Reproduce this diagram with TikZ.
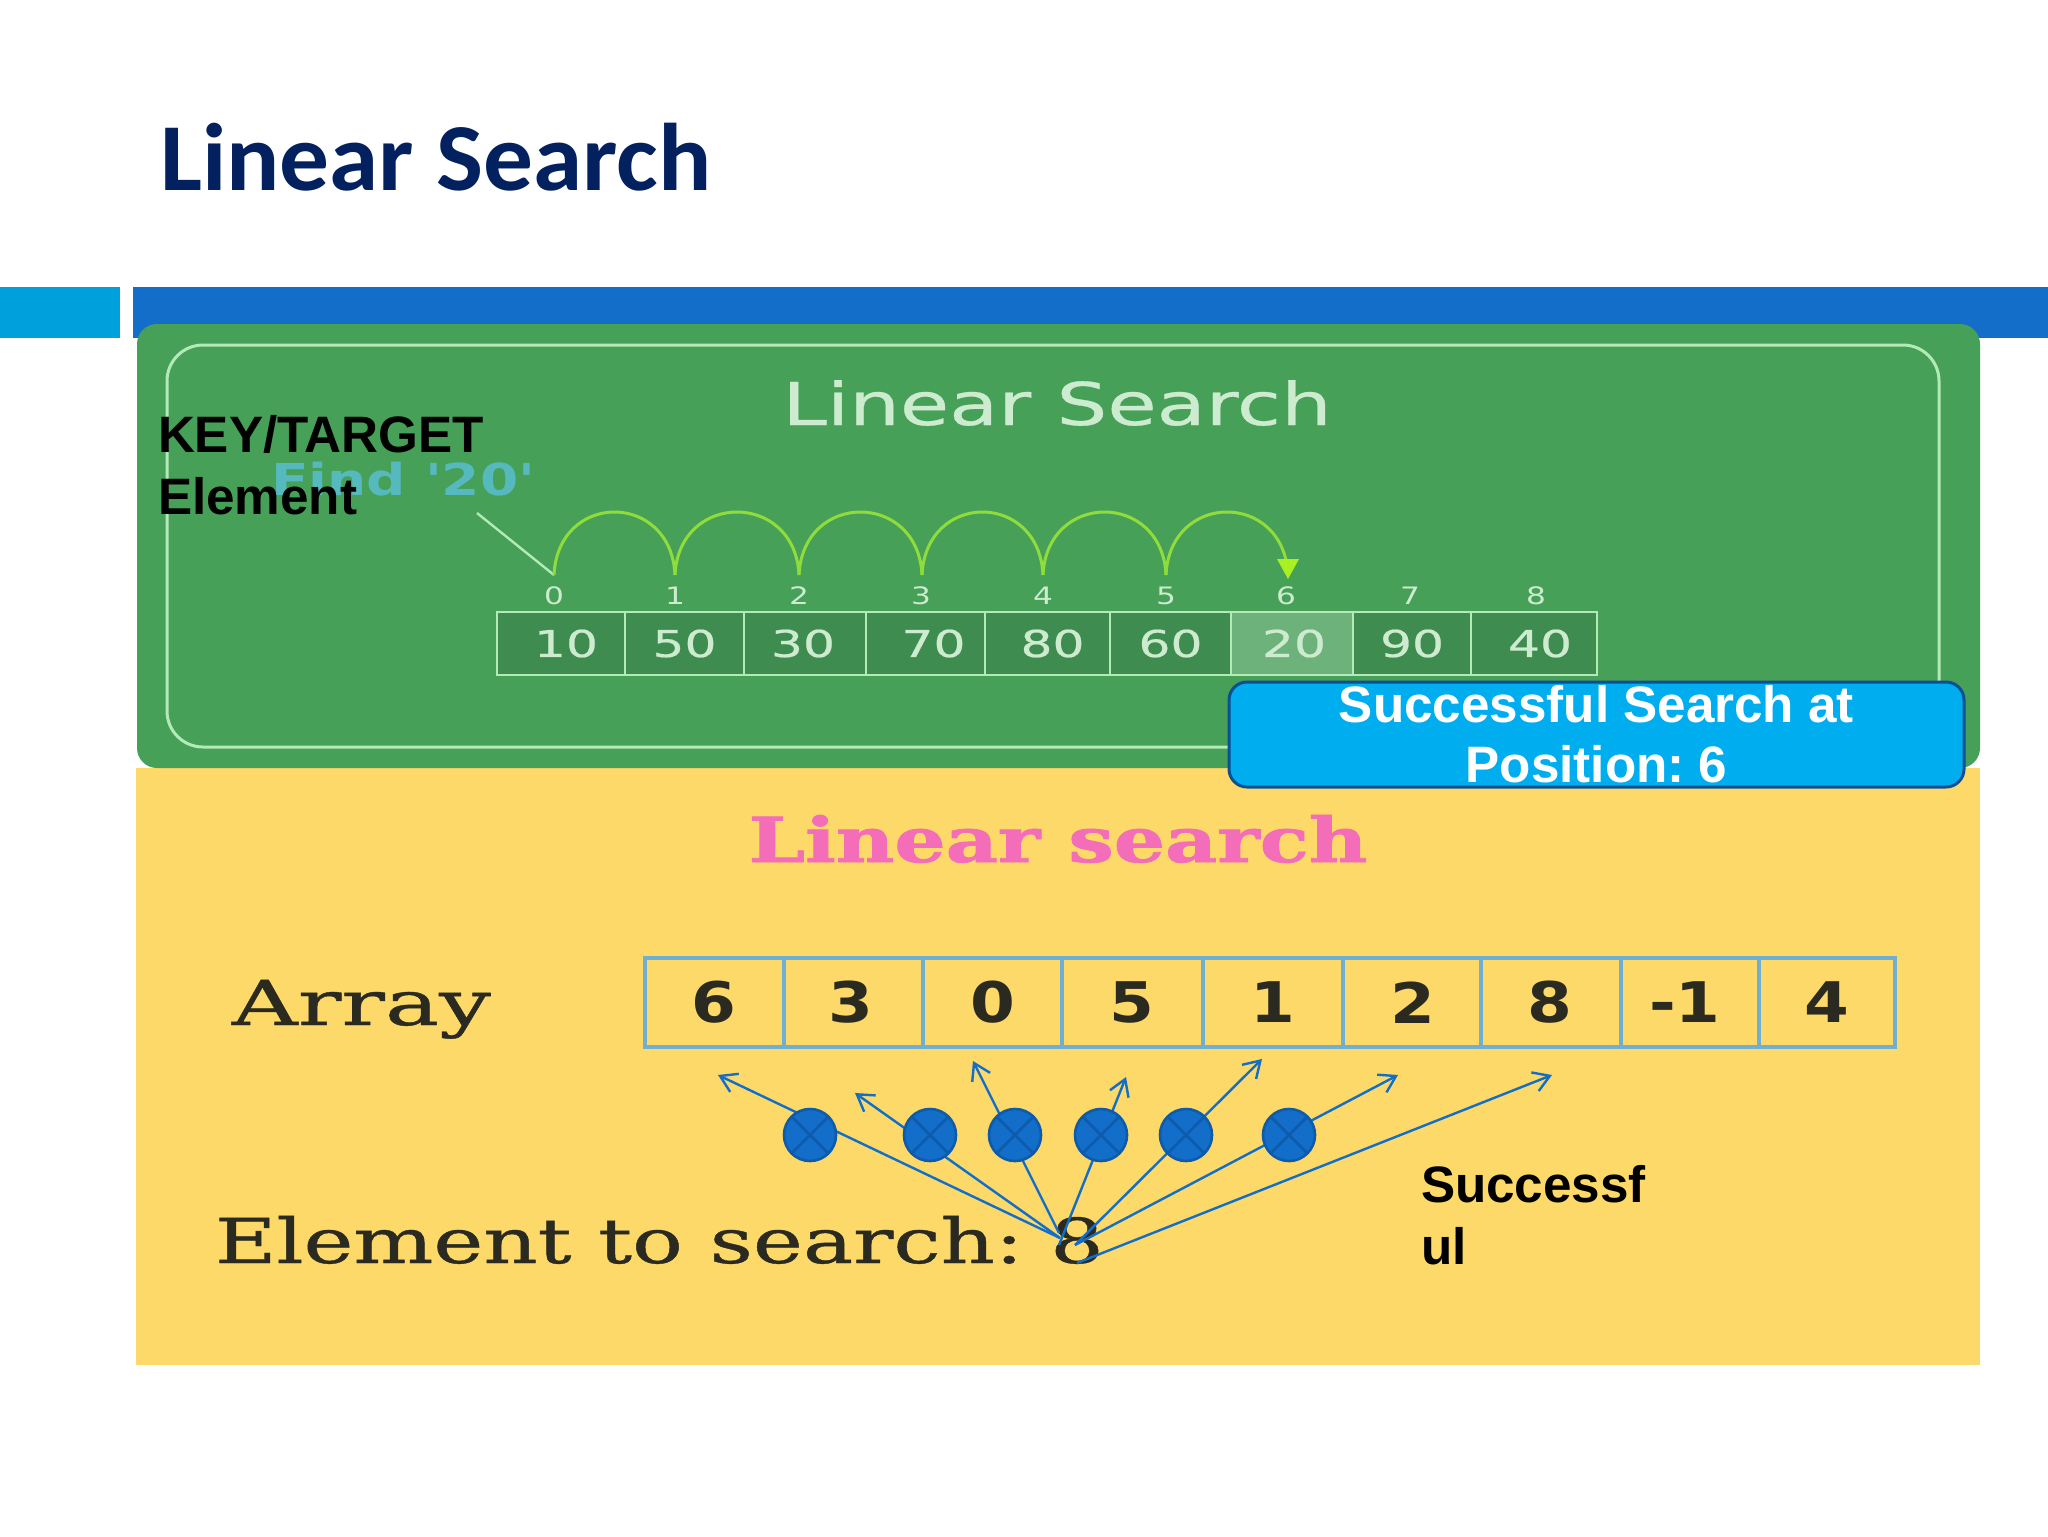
\documentclass[tikz,border=0pt]{standalone}
\usepackage{fontspec}
\usetikzlibrary{arrows.meta}
\setmainfont{Liberation Sans}
\frenchspacing
\newfontfamily\titlefont{Carlito}
\newfontfamily\serifw[FakeBold=0.6]{DejaVu Serif}
\newfontfamily\serifh[FakeBold=1.2]{DejaVu Serif}
\newfontfamily\dvs{DejaVu Sans}
\newfontfamily\dvsb[FakeBold=0.5]{DejaVu Sans}
\newcommand{\wideby}[2]{\scalebox{#1}[1]{#2}}
\definecolor{navy}{HTML}{03215F}
\definecolor{barcyan}{HTML}{00A0DC}
\definecolor{barblue}{HTML}{126EC8}
\definecolor{boardgreen}{HTML}{46A057}
\definecolor{framegreen}{HTML}{B4EAB8}
\definecolor{cellgreen}{HTML}{3F8C50}
\definecolor{celllight}{HTML}{6DB27A}
\definecolor{palegreen}{HTML}{CDEBCF}
\definecolor{arcgreen}{HTML}{90DC3C}
\definecolor{tipgreen}{HTML}{A8F020}
\definecolor{findteal}{HTML}{55B9BE}
\definecolor{boardyellow}{HTML}{FCD968}
\definecolor{pinkhead}{HTML}{F36DB8}
\definecolor{inkdark}{HTML}{2B2A20}
\definecolor{cellblue}{HTML}{6FB0D2}
\definecolor{boxcyan}{HTML}{00AEEF}
\definecolor{boxedge}{HTML}{0B4F94}
\definecolor{markblue}{HTML}{126EC8}
\definecolor{markedge}{HTML}{0D5BAA}
\tikzset{
  lbl/.style={inner sep=0pt,outer sep=0pt},
  blacklbl/.style={lbl,align=left,text=black,font=\bfseries\fontsize{25.6}{31}\selectfont},
  gcell/.style={lbl,draw=framegreen,line width=1.2pt,fill=cellgreen,minimum height=31.5pt,text=palegreen,font=\dvsb\fontsize{18.5}{20}\selectfont},
  gidx/.style={lbl,text=palegreen,font=\dvs\fontsize{12}{14}\selectfont},
  ycell/.style={lbl,draw=cellblue,line width=1.6pt,minimum height=44.5pt,text=inkdark,font=\dvs\bfseries\fontsize{28}{30}\selectfont},
  jump/.style={draw=arcgreen,line width=1.5pt},
  probe/.style={draw=markblue,line width=1.2pt,-{Straight Barb[length=8pt,width=10pt]}},
  miss/.style={lbl,circle,draw=markedge,fill=markblue,line width=1.3pt,minimum size=26pt},
  missx/.style={draw=markedge,line width=1.3pt}
}
\begin{document}
\begin{tikzpicture}[x=0.5pt,y=-0.5pt]
\useasboundingbox (0,0) rectangle (2048,1536);
\fill[white] (0,0) rectangle (2048,1536);
% title and bars
\node[lbl,anchor=base west,text=navy,font=\titlefont\bfseries\fontsize{48}{50}\selectfont] (title) at (160,190) {\wideby{1.035}{Linear Search}};
\fill[barcyan] (0,287) rectangle (120,338);
\fill[barblue] (133,287) rectangle (2048,338);
% yellow panel and green board
\fill[boardyellow] (136,768) rectangle (1980,1365);
\fill[boardgreen,rounded corners=10pt] (137,324) rectangle (1980,768);
\draw[framegreen,line width=1.5pt,rounded corners=18pt] (167,345) rectangle (1939,747);
\node[lbl,anchor=base,text=palegreen,font=\dvsb\fontsize{29.5}{32}\selectfont] (gtitle) at (1057,425) {\wideby{1.357}{Linear Search}};
\node[lbl,anchor=base west,text=findteal,font=\dvs\bfseries\fontsize{22}{24}\selectfont] (find) at (271,495) {\wideby{1.25}{Find '20'}};
% green array
\foreach \i/\x/\w/\d/\t in {0/561/64/5/10,1/684.5/59.5/0/50,2/805/61/-2/30,3/925.5/59.5/8/70,4/1047.5/62.5/5/80,5/1170.5/60.5/0/60,7/1412/59/0/90,8/1534/63/6/40}
  \node[gcell,minimum width=\w pt] (g\i) at (\x,643.5) {\hspace*{\d pt}\wideby{1.36}{\t}};
\node[gcell,minimum width=61pt,fill=celllight] (g6) at (1292,643.5) {\hspace*{2pt}\wideby{1.36}{20}};
\foreach \i/\x in {0/554,1/675,2/799,3/921,4/1043,5/1166,6/1286,7/1410,8/1536}
  \node[gidx] (n\i) at (\x,596) {\wideby{1.3}{\i}};
% jumps
\coordinate (fs) at (477,513);
\foreach \i/\x in {0/554,1/675,2/799,3/922,4/1043,5/1166,6/1288}
  \coordinate (p\i) at (\x,575);
\draw[framegreen,line width=1.2pt] (fs) -- (p0);
\foreach \a/\b in {0/1,1/2,2/3,3/4,4/5,5/6}
  \draw[jump] (p\a) .. controls +(4,-84) and +(-4,-84) .. (p\b);
\fill[tipgreen] (p6) ++(-11,-16) -- ++(22,0) -- ++(-11,20) -- cycle;
% result box
\node[lbl,draw=boxedge,fill=boxcyan,line width=1.5pt,rounded corners=9pt,minimum width=367.5pt,minimum height=52.5pt,align=center,text=white,font=\bfseries\fontsize{25.6}{30}\selectfont] (result) at (1596.5,734.5) {Successful Search at\\Position: 6};
\node[blacklbl,anchor=north west] (key) at (158,415) {KEY/TARGET\\Element};
% yellow panel content
\node[lbl,anchor=base,text=pinkhead,font=\serifh\bfseries\fontsize{31}{33}\selectfont] (ytitle) at (1058,862) {\wideby{1.3}{Linear search}};
\node[lbl,anchor=base west,text=inkdark,font=\serifw\fontsize{31}{33}\selectfont] (arr) at (232,1025) {\wideby{1.47}{Array}};
\node[lbl,anchor=base west,text=inkdark,font=\serifw\fontsize{31}{33}\selectfont] (elem) at (215,1263) {\wideby{1.36}{Element to search: 8}};
\foreach \i/\x/\w/\d/\t in {0/714.5/69.5/-1/6,1/853.5/69.5/-3/3,2/992.5/69.5/0/0,3/1132.5/70.5/-1/5,4/1273/70/0/1,5/1412/69/1/2,6/1551/70/-1/8,7/1690/69/-5/-1,8/1827/68/0/4}
  \node[ycell,minimum width=\w pt] (a\i) at (\x,1002.5) {\hspace*{\d pt}\wideby{1.15}{\t}};
% probes
\foreach \i/\ox/\oy/\hx/\hy in {1/1060/1238/718/1075,2/1060/1238/855/1093,3/1059/1233/973/1061,4/1059/1245/1126/1077,5/1075/1245/1262/1059,6/1075/1245/1398/1075,7/1077/1263/1552/1075}{
  \coordinate (o\i) at (\ox,\oy);
  \coordinate (h\i) at (\hx,\hy);
  \draw[probe] (o\i) -- (h\i);
}
\foreach \i/\x in {1/810,2/930,3/1015,4/1101,5/1186,6/1289}{
  \node[miss] (c\i) at (\x,1135) {};
  \draw[missx] (c\i.45) -- (c\i.225);
  \draw[missx] (c\i.135) -- (c\i.315);
}
\node[blacklbl,anchor=north west] (succ) at (1421,1165) {Successf\\ul};
\end{tikzpicture}
\end{document}
